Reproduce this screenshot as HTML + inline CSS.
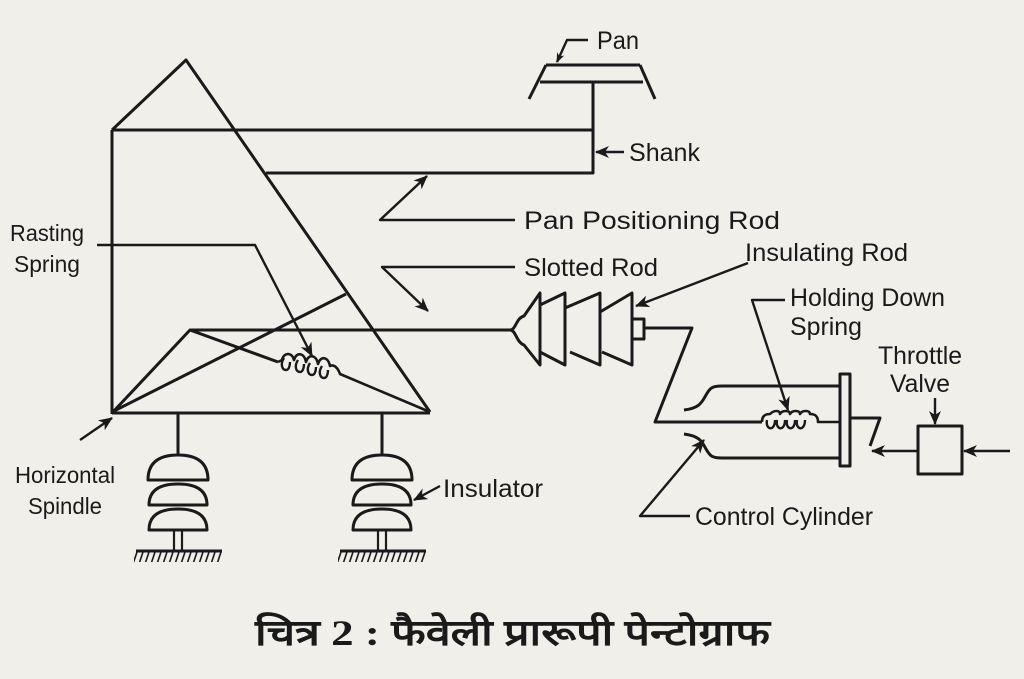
<!DOCTYPE html>
<html><head><meta charset="utf-8"><style>
html,body{margin:0;padding:0;background:#f1efea;}
svg{display:block}
text{font-family:"Liberation Sans",sans-serif;fill:#1a1a1a}
</style></head><body>
<svg width="1024" height="679" viewBox="0 0 1024 679" xmlns="http://www.w3.org/2000/svg">
<defs>
<marker id="a" markerWidth="10" markerHeight="10" refX="9" refY="5" orient="auto" markerUnits="userSpaceOnUse" viewBox="0 0 10 10"><path d="M0,1 L10,5 L0,9 L3,5z" fill="#1a1a1a"/></marker>
<marker id="b" markerWidth="14" markerHeight="14" refX="13" refY="7" orient="auto" markerUnits="userSpaceOnUse" viewBox="0 0 14 14"><path d="M0,1 L14,7 L0,13 L4,7z" fill="#1a1a1a"/></marker>
<pattern id="h" width="6" height="12" patternUnits="userSpaceOnUse"><line x1="5" y1="0" x2="1" y2="12" stroke="#1a1a1a" stroke-width="1.6"/></pattern>
</defs>
<rect width="1024" height="679" fill="#f1efea"/>
<g stroke="#1a1a1a" stroke-width="3" fill="none" stroke-linejoin="round">
<line x1="112" y1="130" x2="112" y2="414"/>
<polyline points="112,130 186,60 430,412"/>
<line x1="112" y1="130" x2="593" y2="130"/>
<polyline points="266,173 593,173 593,82"/>
<line x1="546" y1="65" x2="640" y2="65"/>
<line x1="540" y1="82" x2="643" y2="82"/>
<line x1="546" y1="65" x2="529" y2="99"/>
<line x1="640" y1="65" x2="655" y2="99"/>
<line x1="112" y1="413" x2="430" y2="413"/>
<polyline points="112,413 190,330 510,330"/>
<line x1="112" y1="412" x2="346" y2="294"/>
<polyline points="190,330 278,362"/>
<path d="M278,362 L282,360 c2,-8 10,-8 12,0 c2,-8 10,-8 12,2 c2,-8 10,-8 12,2 c2,-8 10,-8 12,2 c4,-2 8,2 10,8 L430,412" stroke-width="2.6"/>
<path d="M284,358 c-4,6 -2,12 2,12 c4,0 4,-8 4,-8 M298,360 c-4,6 -2,12 2,12 c4,0 4,-8 4,-8 M310,363 c-4,6 -2,12 2,12 c4,0 4,-8 4,-8 M322,366 c-4,6 -2,12 2,12 c4,0 4,-8 4,-8" stroke-width="2.4"/>
<g id="ins">
<line x1="178" y1="413" x2="178" y2="455"/>
<path d="M148,480 Q148,455 178,455 Q208,455 208,480 Z"/>
<path d="M149,505 Q149,484 178,484 Q207,484 207,505 Z"/>
<path d="M149,530 Q149,509 178,509 Q207,509 207,530 Z"/>
<line x1="174" y1="530" x2="174" y2="550" stroke-width="2.2"/>
<line x1="182" y1="530" x2="182" y2="550" stroke-width="2.2"/>
<line x1="136" y1="551" x2="222" y2="551"/>
<rect x="134" y="552" width="88" height="10" fill="url(#h)" stroke="none"/>
</g>
<use href="#ins" transform="translate(204,0)"/>
<path d="M510,330 C516,330 516,318 524,316 L540,293 L540,365 L524,345 C516,342 516,330 510,330"/>
<polyline points="540,305 565,293 565,365 540,352"/>
<polyline points="565,308 600,293 600,365 570,352"/>
<polyline points="600,312 632,293 632,365 602,352"/>
<rect x="632" y="319" width="12" height="20"/>
<polyline points="644,328 692,328 655,422 762,422"/>
<path d="M762,422 c0,-6 3,-8 8,-8 c4,-4 10,-4 10,0 c2,-4 10,-4 10,0 c2,-4 10,-4 10,0 c2,-4 10,-4 10,0 c5,0 8,2 8,8 L840,422" stroke-width="2.6"/>
<path d="M767,420 c-2,10 8,12 8,0 M777,420 c-2,10 8,12 8,0 M787,420 c-2,10 8,12 8,0 M797,420 c-2,10 8,12 8,0" stroke-width="2.4"/>
<path d="M684,410 C700,408 702,402 706,395 C710,388 712,386 722,386 L840,386"/>
<path d="M684,434 C700,436 702,442 706,449 C710,456 712,458 722,458 L840,458"/>
<rect x="840" y="374" width="10" height="92"/>
<polyline points="850,418 880,418 870,446"/>
<rect x="918" y="426" width="44" height="48"/>
<polyline points="588,40 567,40 557,62" stroke-width="2.4" marker-end="url(#a)"/>
<line x1="624" y1="152" x2="596" y2="152" stroke-width="2.4" marker-end="url(#b)"/>
<polyline points="515,220 380,220 427,176" stroke-width="2.4" marker-end="url(#b)"/>
<polyline points="515,267 382,267 428,311" stroke-width="2.4" marker-end="url(#b)"/>
<line x1="748" y1="263" x2="636" y2="306" stroke-width="2.4" marker-end="url(#b)"/>
<polyline points="97,245 255,245 312,356" stroke-width="2.4" marker-end="url(#b)"/>
<polyline points="785,300 752,300 788,410" stroke-width="2.4" marker-end="url(#b)"/>
<polyline points="690,516 640,516 704,440" stroke-width="2.4" marker-end="url(#b)"/>
<line x1="80" y1="440" x2="112" y2="418" stroke-width="2.4" marker-end="url(#b)"/>
<line x1="440" y1="486" x2="414" y2="500" stroke-width="2.4" marker-end="url(#b)"/>
<line x1="935" y1="398" x2="935" y2="424" stroke-width="2.4" marker-end="url(#b)"/>
<line x1="1010" y1="451" x2="964" y2="451" stroke-width="2.4" marker-end="url(#b)"/>
<line x1="918" y1="451" x2="872" y2="451" stroke-width="2.4" marker-end="url(#b)"/>
</g>
<g font-size="25">
<text x="597" y="49" textLength="42" lengthAdjust="spacingAndGlyphs">Pan</text>
<text x="629" y="161" textLength="71" lengthAdjust="spacingAndGlyphs">Shank</text>
<text x="524" y="229" textLength="256" lengthAdjust="spacingAndGlyphs">Pan Positioning Rod</text>
<text x="745" y="261" textLength="163" lengthAdjust="spacingAndGlyphs">Insulating Rod</text>
<text x="524" y="276" textLength="134" lengthAdjust="spacingAndGlyphs">Slotted Rod</text>
<text x="790" y="306" textLength="155" lengthAdjust="spacingAndGlyphs">Holding Down</text>
<text x="790" y="335" textLength="72" lengthAdjust="spacingAndGlyphs">Spring</text>
<text x="878" y="364" textLength="84" lengthAdjust="spacingAndGlyphs">Throttle</text>
<text x="890" y="392" textLength="60" lengthAdjust="spacingAndGlyphs">Valve</text>
<text x="10" y="241" font-size="23" textLength="74" lengthAdjust="spacingAndGlyphs">Rasting</text>
<text x="14" y="272" font-size="23" textLength="66" lengthAdjust="spacingAndGlyphs">Spring</text>
<text x="15" y="483" font-size="23" textLength="100" lengthAdjust="spacingAndGlyphs">Horizontal</text>
<text x="28" y="514" font-size="23" textLength="74" lengthAdjust="spacingAndGlyphs">Spindle</text>
<text x="443" y="497" textLength="100" lengthAdjust="spacingAndGlyphs">Insulator</text>
<text x="695" y="525" textLength="178" lengthAdjust="spacingAndGlyphs">Control Cylinder</text>
</g>
<text x="255" y="645" font-size="36" font-weight="bold" textLength="515" lengthAdjust="spacingAndGlyphs" style="font-family:'Liberation Serif','Noto Serif CJK SC',serif">चित्र 2 : फैवेली प्रारूपी पेन्टोग्राफ</text>
</svg>
</body></html>
